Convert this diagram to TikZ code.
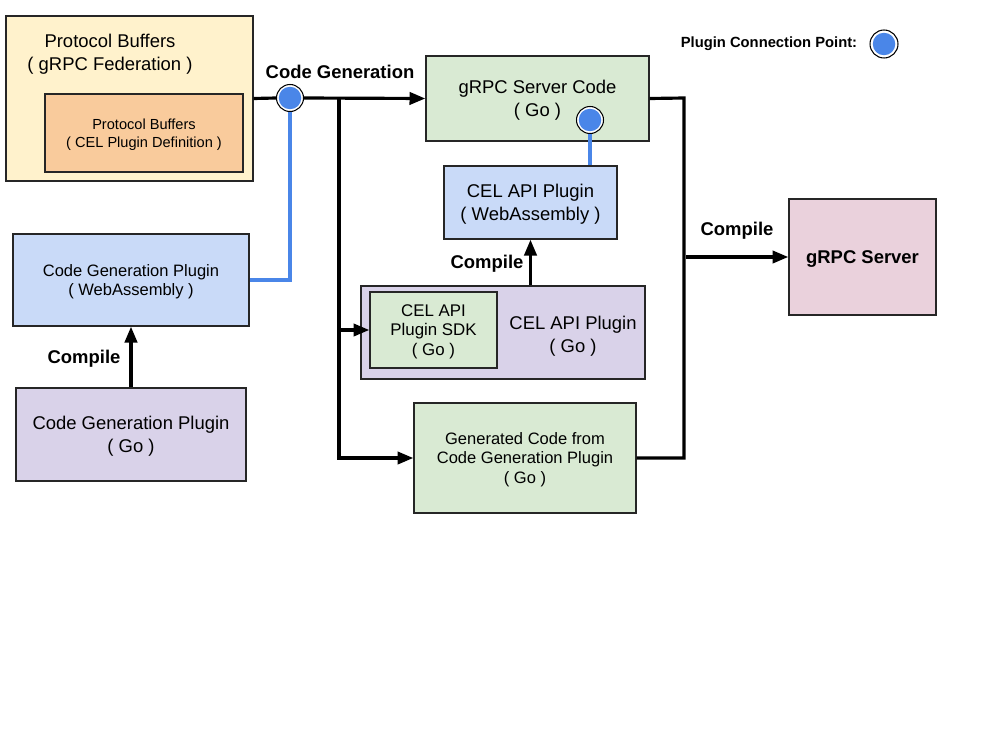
\documentclass[tikz,border=0pt]{standalone}
\usepackage{fontspec}
\setmainfont{Liberation Sans}
\usetikzlibrary{arrows.meta,positioning,calc}
\definecolor{pbyellow}{HTML}{FFF2CC}
\definecolor{pborange}{HTML}{F9CB9C}
\definecolor{wasmblue}{HTML}{C9DAF8}
\definecolor{golilac}{HTML}{D9D2E9}
\definecolor{codegreen}{HTML}{D9EAD3}
\definecolor{srvpink}{HTML}{EAD1DC}
\definecolor{plugblue}{HTML}{4A86E8}
\newcommand{\fsL}{\fontsize{10.5}{13}\selectfont}
\newcommand{\fsM}{\fontsize{9.4}{11}\selectfont}
\newcommand{\fsS}{\fontsize{8.3}{10.2}\selectfont}
\newcommand{\fsX}{\fontsize{8.4}{10}\selectfont}

\begin{document}
\begin{tikzpicture}[x=0.02cm,y=-0.02cm,font=\fsL,
  r/.style={draw=black!85,line width=0.8pt,align=center,inner sep=0pt,text depth=-2.4pt},
  txt/.style={align=center,text depth=-2.4pt},
  lbl/.style={font=\fsL\bfseries},
  wire/.style={line width=1.8pt,line join=miter},
  conn/.style={wire,-{Triangle[length=9pt,width=7pt]}},
  plug/.style={line width=1.8pt,plugblue},
  cp/.style={circle,draw=black,line width=0.6pt,fill=white,minimum size=0.54cm,
    inner sep=0pt,path picture={\fill[plugblue] (path picture bounding box.center) circle (0.225cm);}}]
\useasboundingbox (0,0) rectangle (1000,750);
% left column
\node[r,fill=pbyellow,minimum width=4.94cm,minimum height=3.3cm] (pbout) at (129.5,98.5) {};
\node[txt] (pbtitle) at (110,52) {Protocol Buffers\\( gRPC Federation )};
\node[r,fill=pborange,minimum width=3.96cm,minimum height=1.56cm,font=\fsS] (pbin) at (144,133)
   {Protocol Buffers\\( CEL Plugin Definition )};
\node[r,fill=wasmblue,minimum width=4.72cm,minimum height=1.84cm,font=\fsM] (cgwasm) at (131,280)
   {Code Generation Plugin\\( WebAssembly )};
\node[r,fill=golilac,minimum width=4.6cm,minimum height=1.86cm] (cggo) at (131,434.5)
   {Code Generation Plugin\\( Go )};
% middle column
\node[r,fill=codegreen,minimum width=4.46cm,minimum height=1.7cm] (srvcode) at (537.5,98.5)
   {gRPC Server Code\\( Go )};
\node[r,fill=wasmblue,minimum width=3.46cm,minimum height=1.46cm] (celwasm) at (530.5,202.5)
   {CEL API Plugin\\( WebAssembly )};
\node[r,fill=golilac,minimum width=5.68cm,minimum height=1.86cm] (celgo) at (503,332.5) {};
\node[txt] (celgotxt) at (573,334) {CEL API Plugin\\( Go )};
\node[r,fill=codegreen,minimum width=2.54cm,minimum height=1.52cm,font=\fontsize{9.6}{11.3}\selectfont]
   (sdk) at (433.5,330) {CEL API\\Plugin SDK\\( Go )};
\node[r,fill=codegreen,minimum width=4.44cm,minimum height=2.2cm,font=\fsM] (gencode) at (525,458)
   {Generated Code from\\Code Generation Plugin\\( Go )};
% right
\node[r,fill=srvpink,minimum width=2.94cm,minimum height=2.32cm,font=\fsL\bfseries] (server)
   at (862.5,257) {gRPC Server};
% plugin points
\node[cp] (cp1) at (290,98) {};
\node[cp] (cp2) at (590,120) {};
\node[font=\fsX\bfseries] (legtxt) at (769,44) {Plugin Connection Point:};
\node[cp,minimum size=0.56cm] (legcp) at (884,44) {};
% labels
\node[lbl] (cglbl) at (340,72) {Code Generation};
\node[lbl] (cmp1) at (84,359) {Compile};
\node[lbl] (cmp2) at (487,264) {Compile};
\node[lbl] (cmp3) at (737,231) {Compile};
% connectors
\coordinate (lsplit) at (339,98);
\coordinate (rbus) at (684,98);
\draw[wire] (pbout.east) -- (cp1.west);
\draw[conn] (cp1.east) -- (srvcode.west);
\draw[conn] (lsplit) |- (gencode.west);
\draw[conn] (lsplit |- sdk.west) -- (sdk.west);
\draw[wire] (srvcode.east) -- (rbus) |- (gencode.east);
\draw[conn] ([xshift=0.04cm]rbus |- server.west) -- (server.west);
\draw[conn] (cggo.north) -- (cgwasm.south);
\draw[conn] (celwasm.south |- celgo.north) -- (celwasm.south);
\draw[plug] (cp1.south) |- (cgwasm.east);
\draw[plug] (cp2.south) -- (cp2.south |- celwasm.north);
\end{tikzpicture}
\end{document}
